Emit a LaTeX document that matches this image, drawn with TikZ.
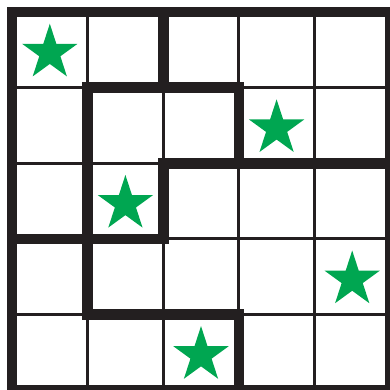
\documentclass[tikz,border=0pt]{standalone}
\usepackage{tikz}
\usetikzlibrary{shapes.geometric}
\definecolor{gridink}{RGB}{35,31,32}
\definecolor{stargreen}{RGB}{0,166,81}

\begin{document}
\begin{tikzpicture}[x=1cm, y=-1cm,
  cellline/.style={draw=gridink, line width=0.036cm},
  wall/.style={draw=gridink, line width=0.14cm, line cap=rect, line join=miter},
  gstar/.style={star, star points=5, star point ratio=2.618, fill=stargreen,
    draw=none, inner sep=0pt, minimum size=0.77cm}
]
  \useasboundingbox (-0.159,-0.159) rectangle (5,5);
  % thin cell lines
  \foreach \i in {1,...,4} {
    \draw[cellline] (\i,0) -- (\i,5);
    \draw[cellline] (0,\i) -- (5,\i);
  }
  % region walls
  \draw[wall] (0,0) rectangle (5,5);
  \draw[wall] (2,0) -- (2,1);
  \draw[wall] (1,4) -- (1,1) -- (3,1) -- (3,2);
  \draw[wall] (2,3) -- (2,2) -- (5,2);
  \draw[wall] (0,3) -- (2,3);
  \draw[wall] (1,4) -- (3,4) -- (3,5);
  % stars
  \node[gstar] (sa) at (0.5,0.54) {};
  \node[gstar] (sb) at (3.5,1.54) {};
  \node[gstar] (sc) at (1.5,2.54) {};
  \node[gstar] (sd) at (4.5,3.54) {};
  \node[gstar] (se) at (2.5,4.54) {};
\end{tikzpicture}
\end{document}
